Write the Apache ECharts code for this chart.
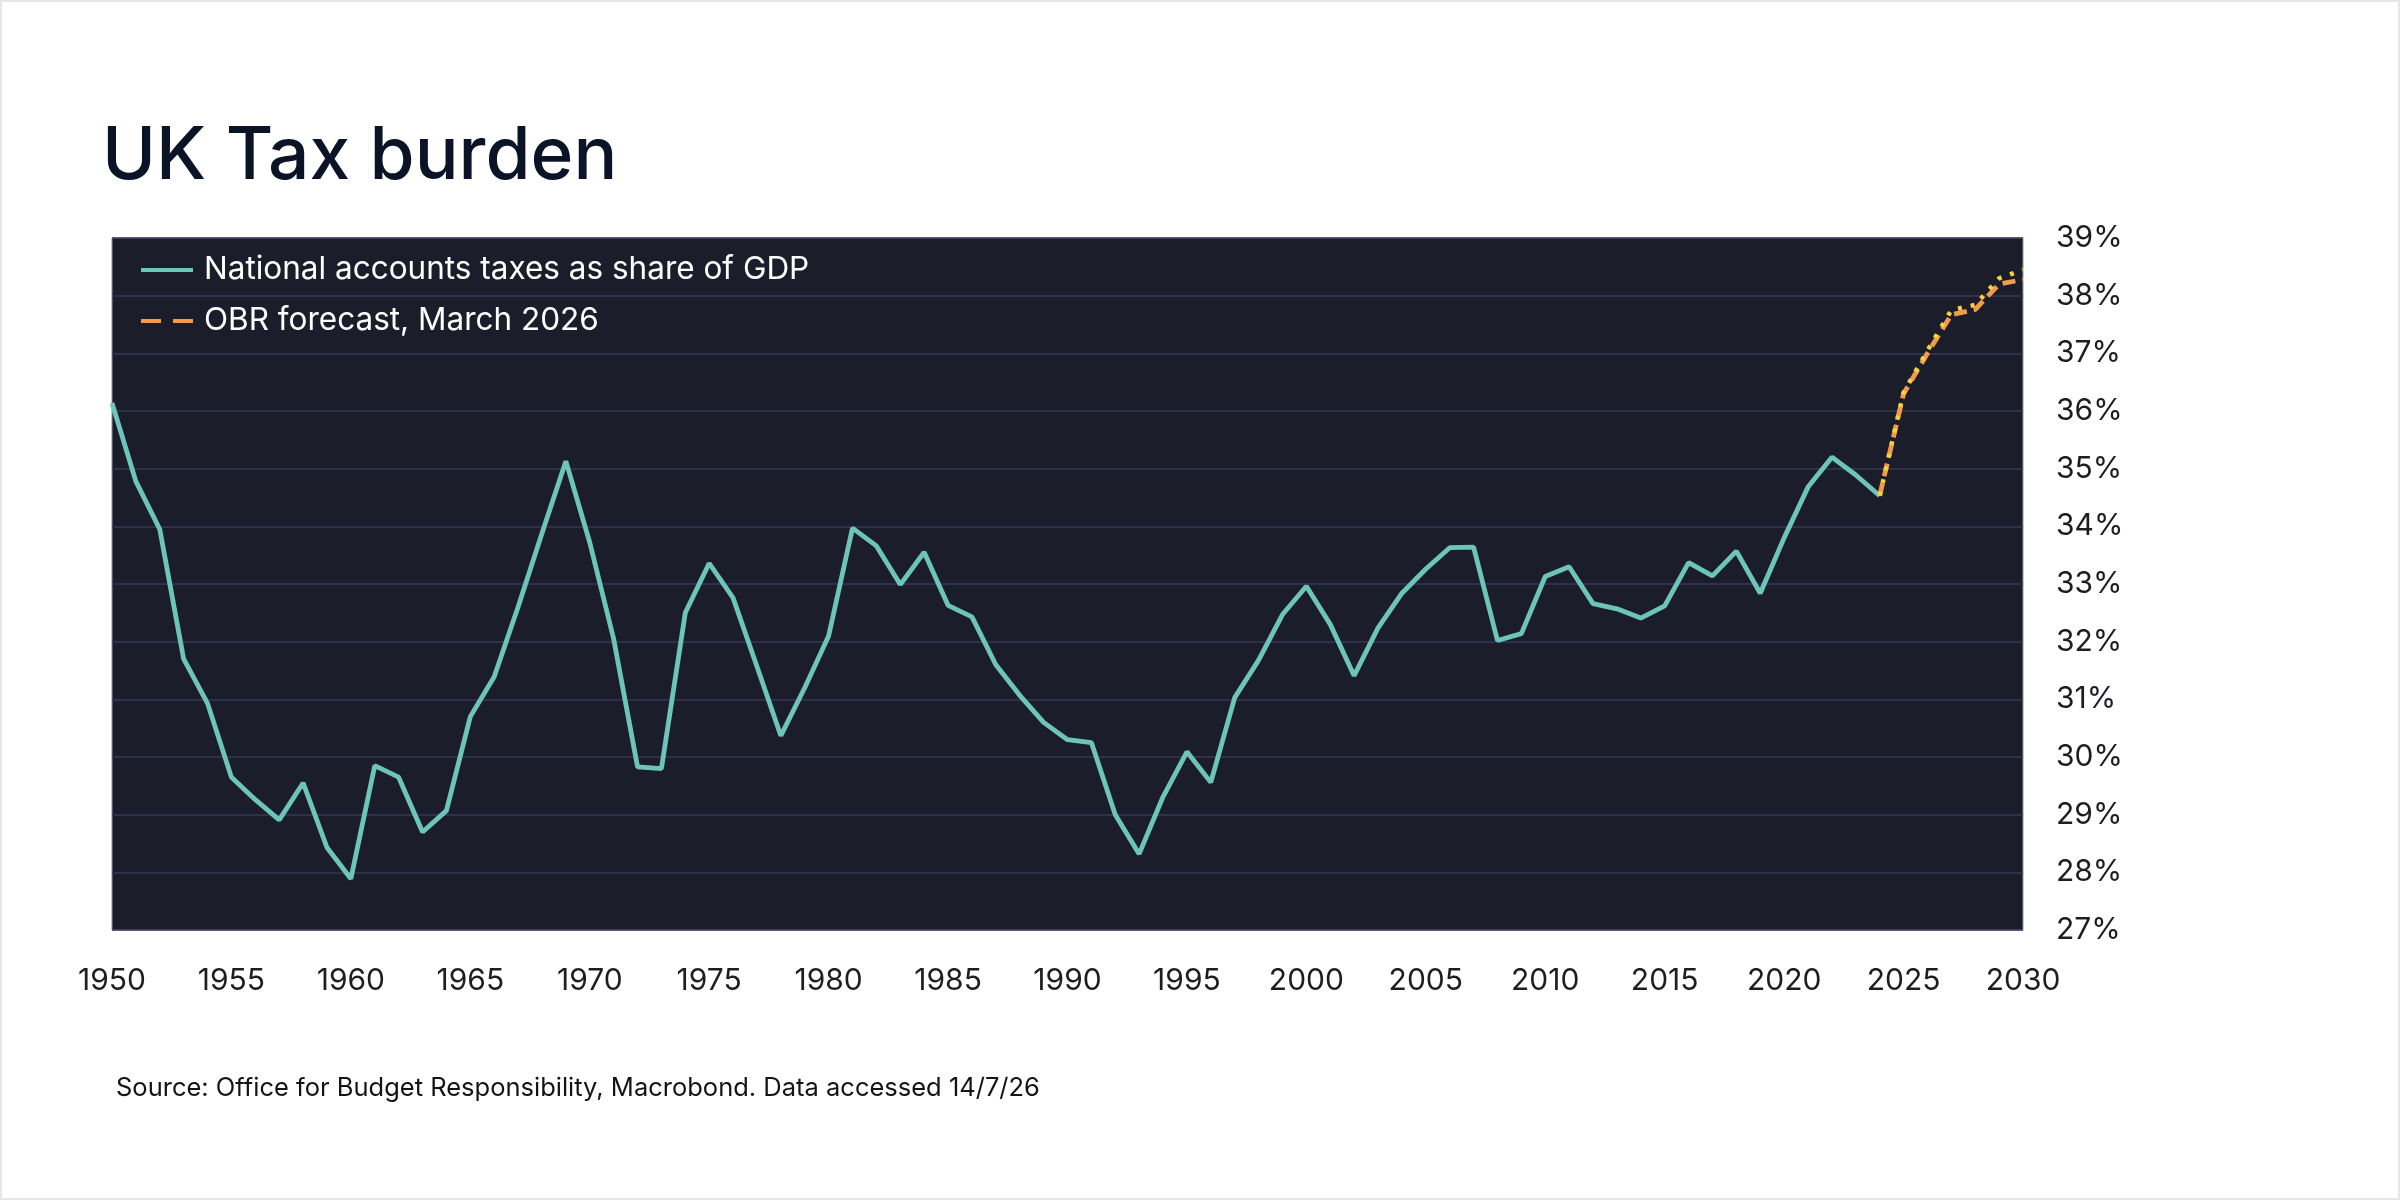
<!DOCTYPE html>
<html>
<head>
<meta charset="utf-8">
<script src="https://cdn.jsdelivr.net/npm/echarts@6/dist/echarts.min.js"></script>
<style>
html,body{margin:0;padding:0;background:#fff;}
#c{width:2400px;height:1200px;box-sizing:border-box;border:2px solid #e6e6e6;}
</style>
</head>
<body>
<div id="c"></div>
<script>
const title = "UK Tax burden";
const source = "Source: Office for Budget Responsibility, Macrobond. Data accessed 14/7/26";
const seriesNames = ["National accounts taxes as share of GDP", "OBR forecast, March 2026", "Earlier OBR forecast"];
const histYears = [1950,1951,1952,1953,1954,1955,1956,1957,1958,1959,1960,1961,1962,1963,1964,1965,1966,1967,1968,1969,
  1970,1971,1972,1973,1974,1975,1976,1977,1978,1979,1980,1981,1982,1983,1984,1985,1986,1987,1988,1989,
  1990,1991,1992,1993,1994,1995,1996,1997,1998,1999,2000,2001,2002,2003,2004,2005,2006,2007,2008,2009,
  2010,2011,2012,2013,2014,2015,2016,2017,2018,2019,2020,2021,2022,2023,2024];
const histValues = [36.14,34.78,33.95,31.70,30.93,29.65,29.26,28.91,29.55,28.43,27.89,29.85,29.65,28.70,29.07,30.70,31.39,32.60,33.88,35.13,
  33.72,32.05,29.83,29.80,32.50,33.36,32.76,31.57,30.37,31.20,32.10,33.97,33.66,32.99,33.55,32.63,32.43,31.60,31.07,30.60,
  30.30,30.25,29.00,28.32,29.31,30.09,29.56,31.03,31.68,32.47,32.96,32.30,31.41,32.24,32.84,33.26,33.63,33.64,32.02,32.14,
  33.13,33.30,32.66,32.57,32.41,32.62,33.37,33.14,33.57,32.84,33.80,34.68,35.20,34.89,34.53];
const fcYears = [2024,2025,2026,2027,2028,2029,2030];
const fcValues = [34.53,36.30,37.00,37.67,37.76,38.20,38.28];
const fc2Values = [34.53,36.32,37.05,37.75,37.84,38.30,38.45];
const xTicks = [1950,1955,1960,1965,1970,1975,1980,1985,1990,1995,2000,2005,2010,2015,2020,2025,2030];
const yTicks = [27,28,29,30,31,32,33,34,35,36,37,38,39];

const zip = (xs, ys) => xs.map((x, i) => [x, ys[i]]);
const FONT = "Inter, 'Noto Sans', sans-serif";

const chart = echarts.init(document.getElementById('c'), null, {renderer: 'canvas'});
chart.setOption({
  animation: false,
  backgroundColor: '#ffffff',
  title: {
    text: title, left: 95, top: 114,
    textStyle: {fontFamily: FONT, fontSize: 73, fontWeight: 500, color: '#0b1426'}
  },
  graphic: [{
    type: 'text', left: 114, top: 1073,
    style: {text: source, fontFamily: FONT, fontSize: 25.5, fill: '#141414'}
  }],
  legend: {
    data: [
      {name: seriesNames[0], icon: 'path://M0,0H52V4H0Z'},
      {name: seriesNames[1], icon: 'path://M0,0H20V4H0Z M32,0H52V4H32Z'}
    ],
    orient: 'vertical', left: 134, top: 244,
    itemWidth: 52, itemHeight: 5, itemGap: 13,
    textStyle: {fontFamily: FONT, fontSize: 31.5, color: '#ffffff', padding: [0, 0, 0, 6], lineHeight: 38}
  },
  grid: {
    left: 110, right: 375, top: 236, bottom: 268,
    show: true, backgroundColor: '#1c1d2b', borderColor: '#8f919c', borderWidth: 1
  },
  xAxis: {
    type: 'value', min: xTicks[0], max: xTicks[xTicks.length - 1], interval: 5,
    axisLine: {show: false}, axisTick: {show: false}, splitLine: {show: false},
    axisLabel: {fontFamily: FONT, fontSize: 30, color: '#1e1e22', margin: 36, formatter: v => String(v)}
  },
  yAxis: {
    type: 'value', position: 'right', min: yTicks[0], max: yTicks[yTicks.length - 1], interval: 1,
    axisLine: {show: false}, axisTick: {show: false},
    splitLine: {show: true, lineStyle: {color: '#363858', width: 1.5}},
    axisLabel: {fontFamily: FONT, fontSize: 30, color: '#1e1e22', margin: 33, formatter: '{value}%'}
  },
  series: [
    {
      name: seriesNames[0], type: 'line', data: zip(histYears, histValues),
      symbol: 'none', lineStyle: {color: '#6cc5b8', width: 4.8}, itemStyle: {color: '#6cc5b8'}, z: 3
    },
    {
      name: seriesNames[1], type: 'line', data: zip(fcYears, fcValues),
      symbol: 'none', lineStyle: {color: '#f29b4c', width: 4.8, type: [13, 7]}, itemStyle: {color: '#f29b4c'}, z: 4
    },
    {
      name: seriesNames[2], type: 'line', data: zip(fcYears, fc2Values),
      symbol: 'none', lineStyle: {color: '#f6d33c', width: 4.5, type: [4, 9]}, itemStyle: {color: '#f6d33c'}, z: 5
    }
  ]
});
</script>
</body>
</html>
